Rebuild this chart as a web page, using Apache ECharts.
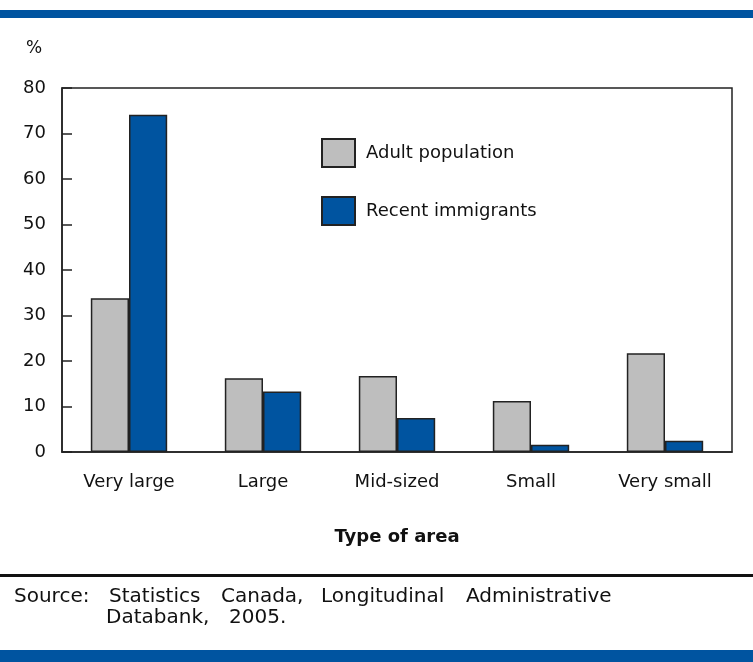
<!DOCTYPE html>
<html>
<head>
<meta charset="utf-8">
<script src="https://cdn.jsdelivr.net/npm/echarts@6/dist/echarts.min.js"></script>
<style>
  html, body { margin: 0; padding: 0; background: #fff; }
  #chart { width: 753px; height: 662px; }
</style>
</head>
<body>
<div id="chart"></div>
<script>
// data
const categories = ['Very large', 'Large', 'Mid-sized', 'Small', 'Very small'];
const adultPopulation = [33.8, 16.2, 16.7, 11.2, 21.7];
const recentImmigrants = [74.1, 13.3, 7.5, 1.6, 2.5];
const yTicks = [0, 80, 10]; // min, max, step

const font = '"DejaVu Sans", Verdana, sans-serif';
const chart = echarts.init(document.getElementById('chart'));

// source note, word by word so the wide spacing of the original survives
const sourceWords = [
  ['Source:', 14, 587], ['Statistics', 109, 587], ['Canada,', 221, 587],
  ['Longitudinal', 321, 587], ['Administrative', 466, 587],
  ['Databank,', 106, 608], ['2005.', 229, 608]
];

const option = {
  backgroundColor: '#fff',
  animation: false,
  textStyle: { fontFamily: font },
  grid: {
    left: 62, right: 21, top: 88, bottom: 210,
    show: true, borderColor: '#222', borderWidth: 1.5, backgroundColor: 'transparent'
  },
  legend: {
    orient: 'vertical',
    left: 316, top: 133,
    itemWidth: 33, itemHeight: 28, itemGap: 28,
    icon: 'rect',
    textStyle: { fontSize: 18, color: '#111', fontFamily: font, padding: [0, 0, 0, 6] },
    data: ['Adult population', 'Recent immigrants']
  },
  xAxis: {
    type: 'category',
    data: categories,
    axisLine: { lineStyle: { color: '#222', width: 1.5 } },
    axisTick: { show: false },
    axisLabel: { color: '#111', fontSize: 18, margin: 21 },
    name: 'Type of area',
    nameLocation: 'middle',
    nameGap: 76,
    nameTextStyle: { fontSize: 18, fontWeight: 'bold', color: '#111' }
  },
  yAxis: {
    type: 'value',
    min: yTicks[0], max: yTicks[1], interval: yTicks[2],
    axisLine: { show: true, lineStyle: { color: '#222', width: 1.5 } },
    axisTick: { show: true, inside: true, length: 10, lineStyle: { color: '#222', width: 1.5 } },
    splitLine: { show: false },
    axisLabel: { color: '#111', fontSize: 18, margin: 16 }
  },
  series: [
    {
      name: 'Adult population',
      type: 'bar',
      data: adultPopulation,
      barGap: '0%',
      barCategoryGap: '43%',
      itemStyle: { color: '#bebebe', borderColor: '#222', borderWidth: 1.5 }
    },
    {
      name: 'Recent immigrants',
      type: 'bar',
      data: recentImmigrants,
      itemStyle: { color: '#0054a0', borderColor: '#222', borderWidth: 1.5 }
    }
  ],
  graphic: [
    { type: 'rect', left: 0, top: 10, shape: { width: 753, height: 8 }, style: { fill: '#0054a0' } },
    { type: 'rect', left: 0, top: 650, shape: { width: 753, height: 12 }, style: { fill: '#0054a0' } },
    { type: 'rect', left: 0, top: 574, shape: { width: 753, height: 3 }, style: { fill: '#111' } },
    { type: 'text', left: 26, top: 40, style: { text: '%', fontSize: 17, fill: '#111', fontFamily: font } }
  ].concat(sourceWords.map(w => ({
    type: 'text', left: w[1], top: w[2],
    style: { text: w[0], fontSize: 20, fill: '#111', fontFamily: font }
  })))
};

chart.setOption(option);
</script>
</body>
</html>
